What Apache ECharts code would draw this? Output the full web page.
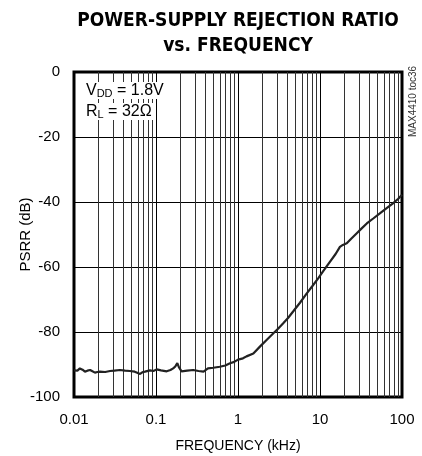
<!DOCTYPE html>
<html><head><meta charset="utf-8">
<script src="https://cdn.jsdelivr.net/npm/echarts@6/dist/echarts.min.js"></script>
<style>html,body{margin:0;padding:0;background:#fff}#c{width:422px;height:456px}</style>
</head><body><div id="c"></div>
<script>
var freq = [0.010,0.0105,0.011,0.0118,0.0127,0.0136,0.0146,0.0157,0.0168,0.018,0.0193,0.0207,0.024,0.0275,0.031,0.0364,0.042,0.048,0.055,0.060,0.064,0.068,0.0734,0.0845,0.093,0.102,0.115,0.135,0.15,0.162,0.172,0.182,0.19,0.205,0.24,0.284,0.33,0.38,0.43,0.5,0.6,0.7,0.8,0.9,1.0,1.15,1.27,1.54,1.85,2.2,2.7,3.1,3.56,4.1,4.7,5.7,6.9,8.0,9.5,11,13.2,15.5,17.5,19,21.2,24,28.1,32,37.2,45,53.7,65,77.6,90,100];
var psrr = [-91.8,-91.5,-91.9,-91.2,-91.6,-92.2,-91.9,-91.7,-92.1,-92.5,-92.3,-92.2,-92.3,-92.0,-91.9,-91.7,-91.9,-92.0,-92.2,-92.6,-92.9,-92.4,-92.2,-91.8,-92.0,-91.5,-91.8,-92.1,-91.7,-91.2,-90.6,-89.6,-90.8,-92.1,-91.9,-91.7,-92.0,-92.2,-91.2,-91.0,-90.7,-90.3,-89.6,-89.2,-88.5,-88.1,-87.5,-86.6,-84.5,-82.6,-80.4,-78.9,-77.3,-75.6,-73.7,-71.0,-68.1,-66.0,-63.5,-61.2,-58.4,-56.0,-53.8,-53.2,-52.7,-51.3,-49.6,-48.2,-46.6,-45.0,-43.5,-41.9,-40.4,-39.0,-37.8];
var xTickLabels = ['0.01','0.1','1','10','100'];
var decades = [0.01,0.1,1,10];
var minorMult = [2,3,4,5,6,7,8,9];

var minorLines = [];
decades.forEach(function(d){ minorMult.forEach(function(m){ minorLines.push({xAxis: +(d*m).toPrecision(3)}); }); });

var chart = echarts.init(document.getElementById('c'), null, {renderer:'canvas'});
var font = 'Liberation Sans, Arial, sans-serif';
chart.setOption({
  animation:false,
  backgroundColor:'#fff',
  grid:{left:74, top:72, width:328, height:325, show:true, borderColor:'#000', borderWidth:3,
        backgroundColor:'transparent', containLabel:false, outerBoundsMode:'none'},
  xAxis:{
    type:'log', min:0.01, max:100, logBase:10,
    name:'FREQUENCY (kHz)', nameLocation:'middle', nameGap:42, nameMoveOverlap:false,
    nameTextStyle:{fontFamily:font, fontSize:14, color:'#000'},
    axisLine:{show:false}, axisTick:{show:false},
    axisLabel:{fontFamily:font, fontSize:15, color:'#000', margin:15,
      formatter:function(v){ var i=Math.round(Math.log10(v))+2; return xTickLabels[i]; }},
    splitLine:{show:true, lineStyle:{color:'#000', width:1}}
  },
  yAxis:{
    type:'value', min:-100, max:0, interval:20,
    name:'PSRR (dB)', nameLocation:'middle', nameGap:41, nameRotate:90, nameMoveOverlap:false,
    nameTextStyle:{fontFamily:font, fontSize:15, color:'#000'},
    axisLine:{show:false}, axisTick:{show:false},
    axisLabel:{fontFamily:font, fontSize:15, color:'#000', margin:14},
    splitLine:{show:true, lineStyle:{color:'#000', width:1}}
  },
  graphic:[
    {type:'text', x:238, y:8, scaleX:0.855, z:10, style:{
      text:'POWER-SUPPLY REJECTION RATIO\nvs. FREQUENCY', textAlign:'center',
      fontFamily:'DejaVu Sans, sans-serif', fontWeight:'bold', fontSize:20, lineHeight:25, fill:'#000'
    }},
    {type:'text', left:84, top:82, z:10, style:{
      text:'{n|V}{s|DD}{n| = 1.8V}', backgroundColor:'#fff', padding:[0,2,0,2],
      rich:{n:{fontFamily:font, fontSize:16, lineHeight:17}, s:{fontFamily:font, fontSize:11, lineHeight:17, padding:[6,0,0,0]}}
    }},
    {type:'text', left:84, top:103, z:10, style:{
      text:'{n|R}{s|L}{n| = 32\u03A9}', backgroundColor:'#fff', padding:[0,2,0,2],
      rich:{n:{fontFamily:font, fontSize:16, lineHeight:17}, s:{fontFamily:font, fontSize:11, lineHeight:17, padding:[6,0,0,0]}}
    }},
    {type:'text', x:408, y:137, rotation:Math.PI/2, z:10, style:{
      text:'MAX4410 toc36', fontFamily:font, fontSize:10, fill:'#333', textAlign:'left', textVerticalAlign:'top'
    }}
  ],
  series:[{
    type:'line', data:freq.map(function(f,i){return [f,psrr[i]];}),
    showSymbol:false, smooth:false,
    lineStyle:{color:'#222', width:2.2},
    markLine:{silent:true, symbol:['none','none'], label:{show:false},
      lineStyle:{color:'#333', width:1, type:'solid'}, data:minorLines, z:1}
  }]
});
</script></body></html>
